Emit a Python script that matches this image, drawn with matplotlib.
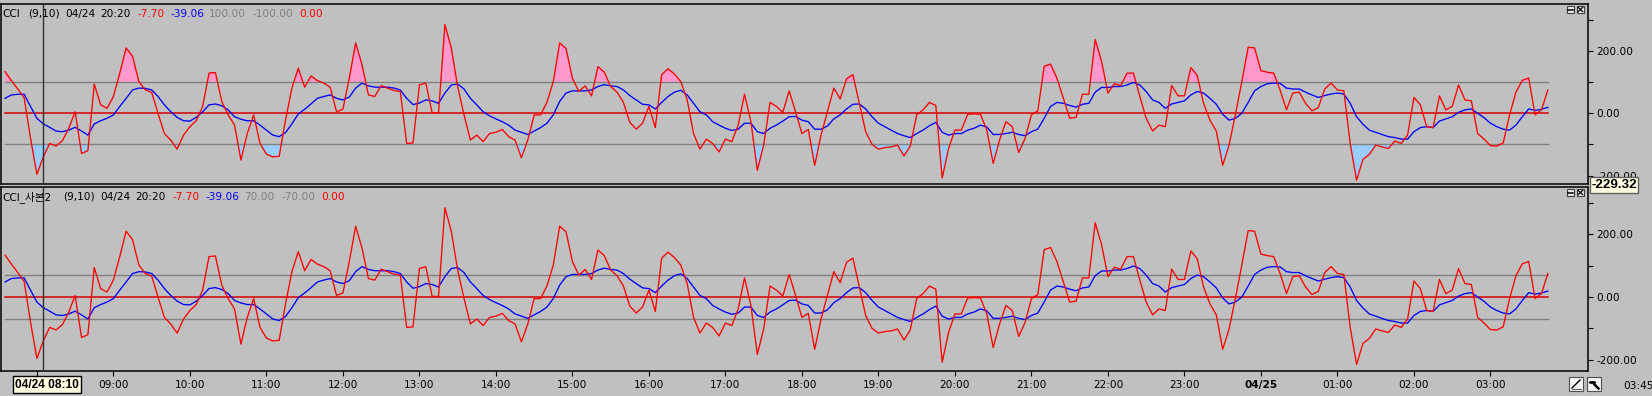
import numpy as np
import pandas as pd
import matplotlib
matplotlib.use("Agg")
import matplotlib.pyplot as plt
from matplotlib.patches import Rectangle, Circle
from matplotlib.lines import Line2D

# ---------------- data ----------------
cci = [134, 105, 78, 50, -80, -196, -140, -97, -105, -88,
       -48, 5, -129, -120, 94, 27, 16, 54, 129, 210,
       183, 102, 75, 67, 0, -65, -86, -115, -70, -43,
       -24, 22, 129, 131, 38, -5, -38, -150, -65, -5,
       -97, -131, -140, -138, -22, 81, 145, 84, 120, 105,
       97, 84, 5, 13, 113, 226, 156, 59, 54, 89,
       81, 73, 70, -97, -95, 91, 97, 2, 2, 285,
       210, 86, -5, -86, -70, -91, -65, -61, -52, -75,
       -86, -143, -86, -5, -5, 35, 102, 226, 208, 113,
       70, 88, 56, 150, 132, 86, 68, 35, -29, -51,
       -32, 22, -46, 124, 143, 126, 102, 43, -65, -115,
       -83, -97, -124, -83, -91, -38, 61, -27, -183, -102,
       35, 22, 3, 72, 5, -65, -52, -167, -70, 5,
       81, 46, 111, 124, 32, -59, -100, -115, -110, -108,
       -102, -137, -105, -5, 11, 35, 25, -208, -113, -54,
       -54, -3, -2, -3, -54, -161, -86, -27, -43, -126,
       -81, -5, 8, 151, 158, 113, 48, -16, -13, 61,
       61, 237, 167, 65, 95, 89, 129, 129, 54, -16,
       -57, -38, -43, 89, 56, 56, 147, 122, 32, -22,
       -57, -167, -102, -3, 102, 212, 210, 137, 132, 129,
       75, 11, 65, 68, 32, 8, 18, 78, 97, 75,
       72, -97, -215, -148, -132, -102, -108, -113, -89, -97,
       -70, 51, 27, -43, -46, 56, 11, 22, 91, 43,
       40, -65, -83, -104, -105, -95, -5, 68, 106, 113,
       -5, 11, 75]

signal = [48, 59, 61, 61, 22, -16, -34, -45, -57, -59,
          -54, -45, -57, -70, -34, -24, -16, -5, 22, 48,
          75, 81, 80, 75, 54, 27, 5, -13, -24, -25,
          -13, 5, 27, 30, 24, 11, -11, -19, -24, -24,
          -38, -54, -70, -75, -62, -34, -2, 13, 30, 48,
          54, 59, 48, 43, 52, 81, 97, 88, 84, 84,
          84, 81, 75, 48, 28, 33, 43, 40, 32, 65,
          91, 94, 78, 48, 27, 5, -8, -18, -27, -38,
          -54, -61, -68, -57, -46, -32, -5, 38, 65, 72,
          72, 72, 75, 86, 92, 88, 86, 75, 57, 43,
          29, 27, 14, 35, 54, 68, 74, 59, 32, 5,
          -5, -27, -38, -48, -55, -51, -32, -32, -59, -65,
          -48, -38, -25, -11, -10, -22, -27, -51, -51, -41,
          -18, -5, 14, 29, 30, 14, -11, -32, -43, -54,
          -65, -72, -78, -65, -54, -40, -29, -61, -70, -65,
          -65, -54, -48, -38, -44, -68, -68, -65, -61, -68,
          -72, -59, -51, -16, 22, 35, 32, 25, 20, 29,
          32, 68, 83, 83, 86, 86, 91, 99, 91, 70,
          43, 35, 16, 30, 35, 40, 59, 70, 65, 48,
          29, -3, -22, -16, 0, 35, 72, 86, 95, 97,
          96, 81, 78, 78, 68, 59, 51, 57, 62, 65,
          62, 32, -11, -35, -54, -61, -68, -75, -78, -83,
          -83, -59, -46, -43, -46, -25, -18, -11, 3, 11,
          14, 0, -14, -32, -43, -51, -54, -38, -11, 14,
          9, 13, 19]

start_time = "2024-04-24 07:35"
bar_minutes = 5
panel_titles = ["CCI", "CCI_사본2"]
panel_levels = [(100, -100), (70, -70)]
panel_level_text = [("100.00", "-100.00"), ("70.00", "-70.00")]
panel_ylims = [(-228, 350), (-235, 350)]
header_params = "(9,10)"
header_time = ["04/24", "20:20"]
header_cci = "-7.70"
header_signal = "-39.06"
header_zero = "0.00"
cursor_bar = 6
cursor_time_label = "04/24 08:10"
cursor_value_label = "-229.32"
last_time_label = "03:45"
ytick_values = [-200, -100, 0, 100, 200, 300]

# ---------------- figure ----------------
W, H = 1652, 396
BG = "#C0C0C0"
fig = plt.figure(figsize=(W / 100, H / 100), dpi=100)
fig.patch.set_facecolor(BG)

def fx(px):
    return px / W

def fy(py):
    return 1 - py / H

def px_axes(x0, y0, x1, y1):
    return fig.add_axes([fx(x0), fy(y1), (x1 - x0) / W, (y1 - y0) / H])

cci_a = np.array(cci, dtype=float)
sig_a = np.array(signal, dtype=float)
n = len(cci_a)
x = np.arange(n)
times = pd.date_range(start_time, periods=n, freq=f"{bar_minutes}min")

ax1 = px_axes(1, 4.3, 1588, 184.3)
ax2 = px_axes(1, 187.3, 1588, 370.7)
axes = [ax1, ax2]

for k, ax in enumerate(axes):
    ax.set_facecolor(BG)
    for s in ax.spines.values():
        s.set_color("black")
        s.set_linewidth(1.1)
    up, lo = panel_levels[k]
    if k == 0:
        ax.fill_between(x, cci_a, up, where=cci_a > up, interpolate=True,
                        color="#FF99CC", lw=0, zorder=1)
        ax.fill_between(x, cci_a, lo, where=cci_a < lo, interpolate=True,
                        color="#99CCFF", lw=0, zorder=1)
    ax.plot([x[0], x[-1]], [up, up], color="#808080", lw=1.0, zorder=2)
    ax.plot([x[0], x[-1]], [lo, lo], color="#808080", lw=1.0, zorder=2)
    ax.plot([x[0], x[-1]], [0, 0], color="#D80000", lw=1.1, zorder=2)
    ax.plot(x, cci_a, color="#FF0000", lw=0.95, zorder=4)
    ax.plot(x, sig_a, color="#0000FF", lw=0.95, zorder=3)
    ax.axvline(cursor_bar, color="#303030", lw=1.0, zorder=5)
    ax.set_xlim(-0.63, n - 1 + 6.3)
    ax.set_ylim(*panel_ylims[k])
    ax.yaxis.tick_right()
    ax.set_yticks(ytick_values)
    ax.set_yticklabels([f"{v:.2f}" if v % 200 == 0 else "" for v in ytick_values])
    ax.tick_params(axis="y", direction="out", length=3.6, width=0.8,
                   pad=2.3, labelsize=7.6, colors="black")

ax1.set_xticks([])
hour_idx = [i for i, t in enumerate(times) if t.minute == 0]
hour_labels = []
for i in hour_idx:
    t = times[i]
    if i < cursor_bar + 3:
        hour_labels.append("")          # hidden under the cursor time box
    elif t.hour == 0:
        hour_labels.append(t.strftime("%m/%d"))
    else:
        hour_labels.append(t.strftime("%H:%M"))
ax2.set_xticks(hour_idx)
ax2.set_xticklabels(hour_labels)
ax2.tick_params(axis="x", direction="out", length=3.6, width=0.8,
                pad=3.0, labelsize=7.6, colors="black")
for lab in ax2.get_xticklabels():
    if "/" in lab.get_text():
        lab.set_fontweight("bold")

# ---------------- headers ----------------
HFS = 7.6
FAM = ["DejaVu Sans", "Noto Sans CJK KR"]
top_pieces = [(panel_titles[0], "black", 2), (header_params, "black", 28),
              (header_time[0], "black", 65), (header_time[1], "black", 100.7),
              (header_cci, "#FF0000", 137), (header_signal, "#0000FF", 170),
              (panel_level_text[0][0], "#808080", 209),
              (panel_level_text[0][1], "#808080", 252),
              (header_zero, "#FF0000", 299)]
bot_pieces = [(panel_titles[1], "black", 2), (header_params, "black", 63),
              (header_time[0], "black", 100), (header_time[1], "black", 135.7),
              (header_cci, "#FF0000", 172), (header_signal, "#0000FF", 205),
              (panel_level_text[1][0], "#808080", 244.5),
              (panel_level_text[1][1], "#808080", 281.5),
              (header_zero, "#FF0000", 321.5)]
for pieces, yc in [(top_pieces, 14), (bot_pieces, 197)]:
    for txt, col, xp in pieces:
        fig.text(fx(xp), fy(yc), txt, color=col, fontsize=HFS, family=FAM,
                 ha="left", va="center", zorder=6)

# ---------------- cursor labels ----------------
fig.text(fx(47), fy(384.5), cursor_time_label, fontsize=8.6, fontweight="bold",
         family="Liberation Sans", ha="center", va="center", zorder=10,
         bbox=dict(boxstyle="square,pad=0.18", fc="#FFFFE1", ec="black", lw=1.0))
fig.text(fx(1614), fy(185), cursor_value_label, fontsize=9.6, fontweight="bold",
         family="Liberation Sans", ha="center", va="center", zorder=10,
         bbox=dict(boxstyle="square,pad=0.12", fc="#FFFFE1", ec="#606060", lw=1.0))
fig.text(fx(1623), fy(386), last_time_label, fontsize=7.6, family="DejaVu Sans",
         ha="left", va="center")

# ---------------- small panel buttons ----------------
def box(x0, y0, w, h, fc="#E8E8E8", ec="#404040"):
    fig.patches.append(Rectangle((fx(x0), fy(y0 + h)), w / W, h / H,
                                 transform=fig.transFigure, fc=fc, ec=ec,
                                 lw=0.8, zorder=8))

def seg(xa, ya, xb, yb, c="black", lw=1.0):
    fig.lines.append(Line2D([fx(xa), fx(xb)], [fy(ya), fy(yb)],
                            transform=fig.transFigure, color=c, lw=lw, zorder=9))

for ytop in (6, 189):
    box(1566.7, ytop, 7.3, 6.8)
    seg(1568.2, ytop + 3.6, 1572.6, ytop + 3.6, lw=1.1)
    box(1576.7, ytop, 7.3, 6.8)
    seg(1578.2, ytop + 1.4, 1582.6, ytop + 5.6, lw=0.9)
    seg(1578.2, ytop + 5.6, 1582.6, ytop + 1.4, lw=0.9)

# bottom-right tool icons
box(1569, 377, 14, 14, fc="#F4F4F4", ec="#505050")
seg(1572, 388, 1580, 380, lw=1.0)
seg(1571.5, 389, 1581, 389, c="#606060", lw=0.8)
box(1587, 377, 14, 14, fc="#F4F4F4", ec="#505050")
fig.patches.append(Circle((fx(1592.5), fy(382.5)), 3.0 / W, transform=fig.transFigure,
                          fc="white", ec="black", lw=1.0, zorder=9))
seg(1594.5, 384.5, 1598.5, 388.5, lw=1.8)

fig.savefig("out.png", dpi=100, facecolor=BG)
